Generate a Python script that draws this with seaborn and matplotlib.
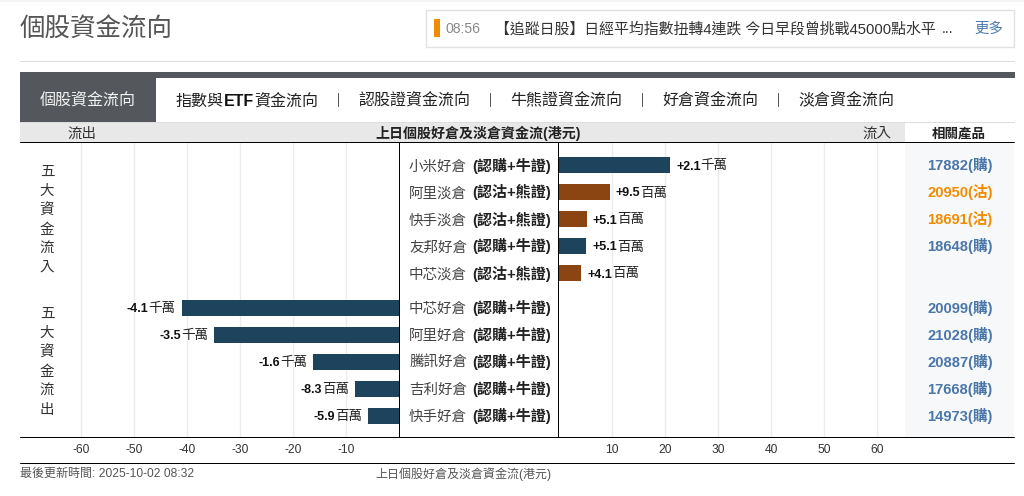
import matplotlib
matplotlib.use("Agg")
import matplotlib.pyplot as plt
import pandas as pd
import seaborn as sns
from matplotlib.patches import Rectangle

sns.set_style("white")
FONTS = ["Liberation Sans", "Noto Sans CJK TC"]
CJK = ["Noto Sans CJK TC", "Liberation Sans"]
plt.rcParams["font.family"] = FONTS
plt.rcParams["axes.unicode_minus"] = False

# data (million HKD)
in_names = ["小米好倉", "阿里淡倉", "快手淡倉", "友邦好倉", "中芯淡倉"]
in_types = ["(認購+牛證)", "(認沽+熊證)", "(認沽+熊證)", "(認購+牛證)", "(認沽+熊證)"]
in_values = [20.9, 9.5, 5.2, 5.1, 4.1]
in_labels = ["+2.1", "+9.5", "+5.1", "+5.1", "+4.1"]
in_units = ["千萬", "百萬", "百萬", "百萬", "百萬"]
in_codes = ["17882(購)", "20950(沽)", "18691(沽)", "18648(購)", ""]

out_names = ["中芯好倉", "阿里好倉", "騰訊好倉", "吉利好倉", "快手好倉"]
out_types = ["(認購+牛證)"] * 5
out_values = [-41.0, -34.8, -16.1, -8.3, -5.8]
out_labels = ["-4.1", "-3.5", "-1.6", "-8.3", "-5.9"]
out_units = ["千萬", "千萬", "千萬", "百萬", "百萬"]
out_codes = ["20099(購)", "21028(購)", "20887(購)", "17668(購)", "14973(購)"]

left_ticks = [-60, -50, -40, -30, -20, -10]
right_ticks = [10, 20, 30, 40, 50, 60]
tabs = ["指數與ETF資金流向", "認股證資金流向", "牛熊證資金流向", "好倉資金流向", "淡倉資金流向"]
tab_x = [176, 358, 510, 662, 798]
tab_sep_x = [338, 490, 642, 778]
news = "【追蹤日股】日經平均指數扭轉4連跌 今日早段曾挑戰45000點水平"

palette = {"(認購+牛證)": "#1d435d", "(認沽+熊證)": "#8b4513"}
W, H = 1024, 496
TOP, BOTTOM = 142.5, 437
ROW = 27
SCALE = 5.3
ZERO_L, ZERO_R = 398.8, 559.3

fig = plt.figure(figsize=(W / 100, H / 100), dpi=100, facecolor="white")


def pixel_axes(zorder):
    ax = fig.add_axes([0, 0, 1, 1], zorder=zorder)
    ax.set_xlim(0, W)
    ax.set_ylim(H, 0)
    ax.axis("off")
    return ax


# bg holds the page boxes, fg holds lines and text above the gridlines
bg = pixel_axes(0)
fg = pixel_axes(2)


def chart_axes(x0, x1):
    ax = fig.add_axes([x0 / W, (H - BOTTOM) / H, (x1 - x0) / W, (BOTTOM - TOP) / H], zorder=1)
    ax.patch.set_alpha(0)
    return ax


def label(x, y, s, px=12, color="#333333", family=None, **kw):
    return fg.text(x, y + 1, s, fontsize=px * 0.72, color=color, family=family or FONTS, va="center", **kw)


def parts(x, y, items, ha="left"):
    # run of text pieces on one baseline, each piece (string, colour, weight, px)
    r = fig.canvas.get_renderer()
    for s, c, w, px in (items if ha == "left" else reversed(items)):
        t = fg.text(x, y, s, fontsize=px * 0.72, color=c, weight=w, family=FONTS, va="baseline", ha=ha)
        ext = t.get_window_extent(r)
        x = ext.x1 if ha == "left" else ext.x0


def draw_bars(ax, names, types, values, first_row_y):
    df = pd.DataFrame({"name": names, "type": types, "value": values})
    sns.barplot(data=df, x="value", y="name", hue="type", order=names, palette=palette, dodge=False,
                legend=False, width=16 / ROW, saturation=1, linewidth=0, ax=ax)
    ax.set_ylim((BOTTOM - first_row_y) / ROW, (TOP - first_row_y) / ROW)
    ax.set_xlabel("")
    ax.set_ylabel("")
    ax.set_yticks([])
    ax.grid(axis="x", color="#ececec", linewidth=1)
    ax.set_axisbelow(True)
    ax.tick_params(axis="x", length=0, pad=5, labelsize=12 * 0.72, labelcolor="#333333")
    sns.despine(ax=ax, left=True, bottom=True)


# page chrome
bg.add_patch(Rectangle((0, 0), W, 2, color="#f4f4f4", lw=0))
label(20, 28, "個股資金流向", px=25.5, color="#555555", family=CJK, weight="medium")
bg.add_patch(Rectangle((425.5, 9.5), 588, 37, fc="white", ec="#e2e2e2", lw=1))
bg.add_patch(Rectangle((434, 19), 6, 18, color="#f08c00", lw=0))
label(445, 28, "08:56", px=14, color="#888888")
label(495, 28, news, px=14.9, color="#333333")
label(942, 28, "...", px=14, color="#333333")
label(974, 28, "更多", px=14.5, color="#4a7ab0", family=CJK)
bg.plot([20, 1014], [61, 61], color="#dddddd", lw=0.72)

bg.add_patch(Rectangle((20, 72), 995, 6, color="#54585c", lw=0))
bg.add_patch(Rectangle((20, 72), 136, 50, color="#54585c", lw=0))
label(40, 99, "個股資金流向", px=16, color="#f2f2f2", family=CJK)
for x, s in zip(tab_x, tabs):
    if "ETF" in s:
        parts(x, 105.5, [("指數與", "#222222", "normal", 16), ("ETF", "#111111", "bold", 16),
                         ("資金流向", "#222222", "normal", 16)])
    else:
        label(x, 99, s, px=16, color="#222222", family=CJK)
for x in tab_sep_x:
    bg.plot([x, x], [93, 106], color="#555555", lw=0.72)

bg.add_patch(Rectangle((20, 122), 885, 20, color="#e8e8e8", lw=0))
bg.plot([20, 1014], [122, 122], color="#dddddd", lw=0.72)
bg.add_patch(Rectangle((905, 143), 109, 294, color="#f7f8f9", lw=0))
label(81.5, 132.5, "流出", px=14.5, family=CJK, ha="center")
label(478.5, 132.5, "上日個股好倉及淡倉資金流(港元)", px=14, color="#222222", weight="bold", ha="center")
label(877, 132.5, "流入", px=14.5, family=CJK, ha="center")
label(959, 132.5, "相關產品", px=13.5, color="#222222", family=CJK, weight="bold", ha="center")

for y in [142, 437, 463]:
    fg.plot([20, 1014], [y, y], color="black", lw=0.72)
for x in [399, 558]:
    fg.plot([x, x], [142, 437], color="black", lw=0.72)

for y0, word in [(171, "五大資金流入"), (313, "五大資金流出")]:
    for i, ch in enumerate(word):
        label(47, y0 + i * 19.2, ch, px=14.5, family=CJK, ha="center")

label(20, 473, "最後更新時間: 2025-10-02 08:32", px=12, color="#555555")
label(375, 473, "上日個股好倉及淡倉資金流(港元)", px=12, color="#555555")

# the two bar panels share one px-per-unit scale
ax_l = chart_axes(20, ZERO_L)
first_out_y = 307.7
draw_bars(ax_l, out_names, out_types, out_values, first_out_y)
ax_l.set_xlim((20 - ZERO_L) / SCALE, 0)
ax_l.set_xticks(left_ticks)

ax_r = chart_axes(ZERO_R, 905)
first_in_y = 165
draw_bars(ax_r, in_names, in_types, in_values, first_in_y)
ax_r.set_xlim(0, (905 - ZERO_R) / SCALE)
ax_r.set_xticks(right_ticks)

# row texts
for first_y, names, types, values, labels, units, codes in [
    (first_in_y, in_names, in_types, in_values, in_labels, in_units, in_codes),
    (first_out_y, out_names, out_types, out_values, out_labels, out_units, out_codes),
]:
    for i, name in enumerate(names):
        y = first_y + i * ROW
        parts(409, y + 5.5, [(name, "#444444", "normal", 14.5)])
        parts(472, y + 5.5, [(types[i], "#222222", "bold", 15)])
        value_parts = [(labels[i], "#111111", "bold", 12.5), (units[i], "#222222", "normal", 13.5)]
        if values[i] > 0:
            parts(ZERO_R + values[i] * SCALE + 6, y + 4.5, value_parts)
        else:
            parts(ZERO_L + values[i] * SCALE - 6, y + 4.5, value_parts, ha="right")
        if codes[i]:
            c = "#f08c00" if "沽" in codes[i] else "#4a76a8"
            label(927, y - 0.7, codes[i], px=14.8, color=c, weight="bold")

fig.savefig("out.png", dpi=100)
plt.close(fig)
